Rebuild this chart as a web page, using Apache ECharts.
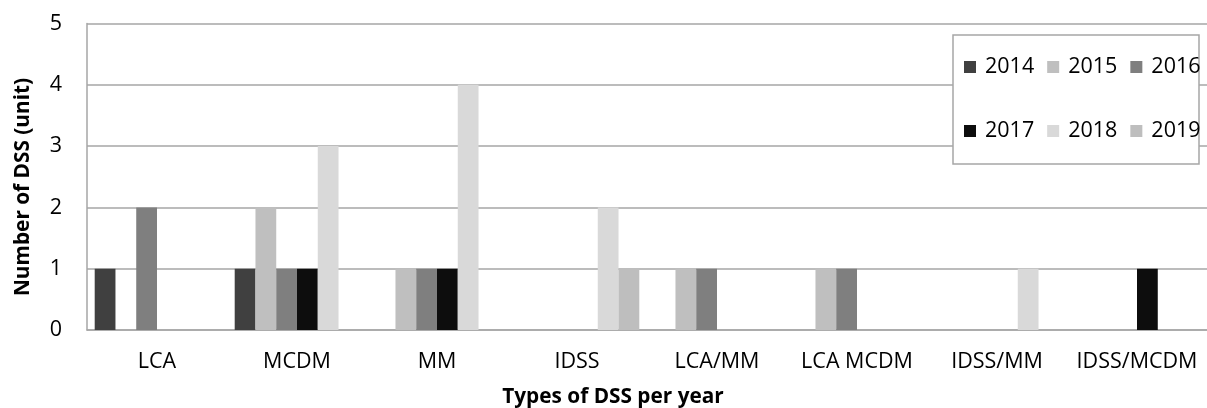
<!DOCTYPE html>
<html>
<head>
<meta charset="utf-8">
<script src="https://cdn.jsdelivr.net/npm/echarts@6/dist/echarts.min.js"></script>
<style>
html,body{margin:0;padding:0;background:#fff;}
#chart{width:1207px;height:408px;}
</style>
</head>
<body>
<div id="chart"></div>
<script>
const categories = ['LCA', 'MCDM', 'MM', 'IDSS', 'LCA/MM', 'LCA MCDM', 'IDSS/MM', 'IDSS/MCDM'];
const years = ['2014', '2015', '2016', '2017', '2018', '2019'];
const v2014 = [1, 1, 0, 0, 0, 0, 0, 0];
const v2015 = [0, 2, 1, 0, 1, 1, 0, 0];
const v2016 = [2, 1, 1, 0, 1, 1, 0, 0];
const v2017 = [0, 1, 1, 0, 0, 0, 0, 1];
const v2018 = [0, 3, 4, 2, 0, 0, 1, 0];
const v2019 = [0, 0, 0, 1, 0, 0, 0, 0];
const yTicks = [0, 1, 2, 3, 4, 5];
const colors = ['#404040', '#bfbfbf', '#7f7f7f', '#0d0d0d', '#d9d9d9', '#bebebe'];
const seriesValues = [v2014, v2015, v2016, v2017, v2018, v2019];

const FONT = '"Open Sans", Lato, sans-serif';
const chart = echarts.init(document.getElementById('chart'), null, {renderer: 'canvas'});

const legendCommon = {
  orient: 'horizontal',
  padding: 0,
  itemWidth: 12,
  itemHeight: 12,
  itemGap: 13,
  icon: 'rect',
  z: 10,
  textStyle: {fontFamily: FONT, fontSize: 21.5, color: '#000', padding: [0, 0, 0, 4]}
};

const option = {
  backgroundColor: '#fff',
  animation: false,
  grid: {left: 87, right: -6, top: 23.5, bottom: 78, containLabel: false},
  legend: [
    Object.assign({}, legendCommon, {left: 964, top: 56, data: years.slice(0, 3)}),
    Object.assign({}, legendCommon, {left: 964, top: 120, data: years.slice(3, 6)})
  ],
  graphic: [
    {type: 'rect', z: 3, shape: {x: 953, y: 35, width: 246, height: 129},
     style: {fill: '#fff', stroke: '#a6a6a6', lineWidth: 1.5}},
    {type: 'text', z: 5, x: 613, y: 397,
     style: {text: 'Types of DSS per year', fontFamily: FONT, fontSize: 20.8, fontWeight: 'bold',
             fill: '#000', textAlign: 'center', textVerticalAlign: 'middle'}},
    {type: 'text', z: 5, x: 23, y: 187, rotation: Math.PI / 2,
     style: {text: 'Number of DSS (unit)', fontFamily: FONT, fontSize: 20.8, fontWeight: 'bold',
             fill: '#000', textAlign: 'center', textVerticalAlign: 'middle'}}
  ],
  xAxis: {
    type: 'category',
    data: categories,
    axisLine: {show: true, lineStyle: {color: '#a6a6a6', width: 1.5}},
    axisTick: {show: false},
    axisLabel: {fontFamily: FONT, fontSize: 21.5, color: '#000', margin: 21, interval: 0},
    splitLine: {show: false}
  },
  yAxis: {
    type: 'value',
    min: yTicks[0],
    max: yTicks[yTicks.length - 1],
    interval: 1,
    axisLine: {show: true, lineStyle: {color: '#a6a6a6', width: 1.5}},
    axisTick: {show: false},
    axisLabel: {fontFamily: FONT, fontSize: 21.5, color: '#000', margin: 25},
    splitLine: {show: true, lineStyle: {color: '#a6a6a6', width: 1.5}}
  },
  series: years.map((y, i) => ({
    name: y,
    type: 'bar',
    data: seriesValues[i],
    barGap: '0%',
    barCategoryGap: '11%',
    itemStyle: {color: colors[i]},
    z: 2
  }))
};
chart.setOption(option);
</script>
</body>
</html>
